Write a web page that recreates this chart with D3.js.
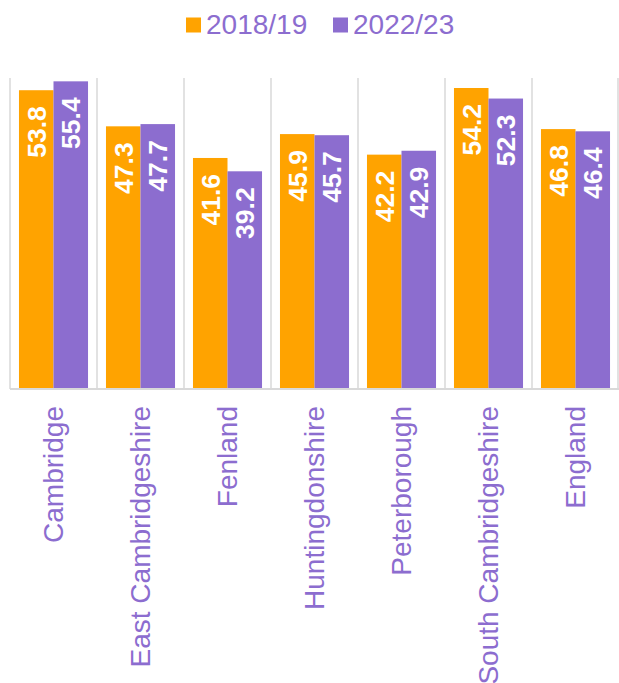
<!DOCTYPE html>
<html>
<head>
<meta charset="utf-8">
<script src="https://cdn.jsdelivr.net/npm/d3@7"></script>
<style>
  body { margin: 0; background: #fff; }
  svg { display: block; }
</style>
</head>
<body>
<svg id="chart" width="619" height="683"></svg>
<script>
// -------------- DATA ----------------- //
const areas = ["Cambridge", "East Cambridgeshire", "Fenland", "Huntingdonshire",
               "Peterborough", "South Cambridgeshire", "England"];
const seriesNames = ["2018/19", "2022/23"];
const values2018 = [53.8, 47.3, 41.6, 45.9, 42.2, 54.2, 46.8];
const values2022 = [55.4, 47.7, 39.2, 45.7, 42.9, 52.3, 46.4];

// -------------- DESIGN CONSTANTS ----------------- //
const ORANGE = "#ffa300";
const PURPLE = "#8c6dcf";
const GRID = "#d9d9d9";
const FONT = "'Liberation Sans', Arial, sans-serif";
const colors = [ORANGE, PURPLE];

const plotLeft = 10, plotRight = 619, plotTop = 78, plotBottom = 389;

const svg = d3.select("#chart");

const x = d3.scaleBand().domain(areas).range([plotLeft, plotRight]).padding(0);
const xInner = d3.scaleBand().domain(seriesNames)
    .range([0, x.bandwidth()]).paddingInner(0).paddingOuter(0.26);
const y = d3.scaleLinear().domain([0, 56]).range([plotBottom, plotTop]);

const rows = areas.map((a, i) => ({
    area: a,
    vals: [values2018[i], values2022[i]]
}));

// -------------- GRID ----------------- //
const boundaries = areas.map(a => x(a)).concat([plotRight - 1]);
svg.append("g").selectAll("line").data(boundaries).join("line")
    .attr("x1", d => d).attr("x2", d => d)
    .attr("y1", plotTop).attr("y2", plotBottom)
    .attr("stroke", GRID).attr("stroke-width", 1.5);

// -------------- BARS ----------------- //
const groups = svg.append("g").selectAll("g").data(rows).join("g")
    .attr("transform", d => `translate(${x(d.area)},0)`);

groups.selectAll("rect")
    .data(d => d.vals.map((v, j) => ({ v, s: seriesNames[j], c: colors[j] })))
    .join("rect")
    .attr("x", d => xInner(d.s))
    .attr("y", d => y(d.v))
    .attr("width", xInner.bandwidth())
    .attr("height", d => plotBottom - y(d.v))
    .attr("fill", d => d.c);

groups.selectAll("text")
    .data(d => d.vals.map((v, j) => ({ v, s: seriesNames[j] })))
    .join("text")
    .attr("transform", d => `translate(${xInner(d.s) + xInner.bandwidth() / 2},${y(d.v) + 16}) rotate(-90)`)
    .attr("text-anchor", "end")
    .attr("dy", "0.36em")
    .attr("fill", "#fff")
    .attr("font-family", FONT)
    .attr("font-weight", "bold")
    .attr("font-size", 26.5)
    .text(d => d.v.toFixed(1));

// baseline
svg.append("line")
    .attr("x1", plotLeft).attr("x2", plotRight)
    .attr("y1", plotBottom).attr("y2", plotBottom)
    .attr("stroke", GRID).attr("stroke-width", 2);

// -------------- CATEGORY LABELS ----------------- //
svg.append("g").selectAll("text").data(areas).join("text")
    .attr("transform", d => `translate(${x(d) + x.bandwidth() / 2},${plotBottom + 17}) rotate(-90)`)
    .attr("text-anchor", "end")
    .attr("dy", "0.33em")
    .attr("fill", PURPLE)
    .attr("font-family", FONT)
    .attr("font-size", 28)
    .text(d => d);

// -------------- LEGEND ----------------- //
const legendX = [186, 333];
const legend = svg.append("g").selectAll("g").data(seriesNames).join("g")
    .attr("transform", (d, i) => `translate(${legendX[i]},0)`);
legend.append("rect")
    .attr("x", 0).attr("y", 17.5)
    .attr("width", 15).attr("height", 15)
    .attr("fill", (d, i) => colors[i]);
legend.append("text")
    .attr("x", 20).attr("y", 34)
    .attr("fill", PURPLE)
    .attr("font-family", FONT)
    .attr("font-size", 28)
    .text(d => d);
</script>
</body>
</html>
